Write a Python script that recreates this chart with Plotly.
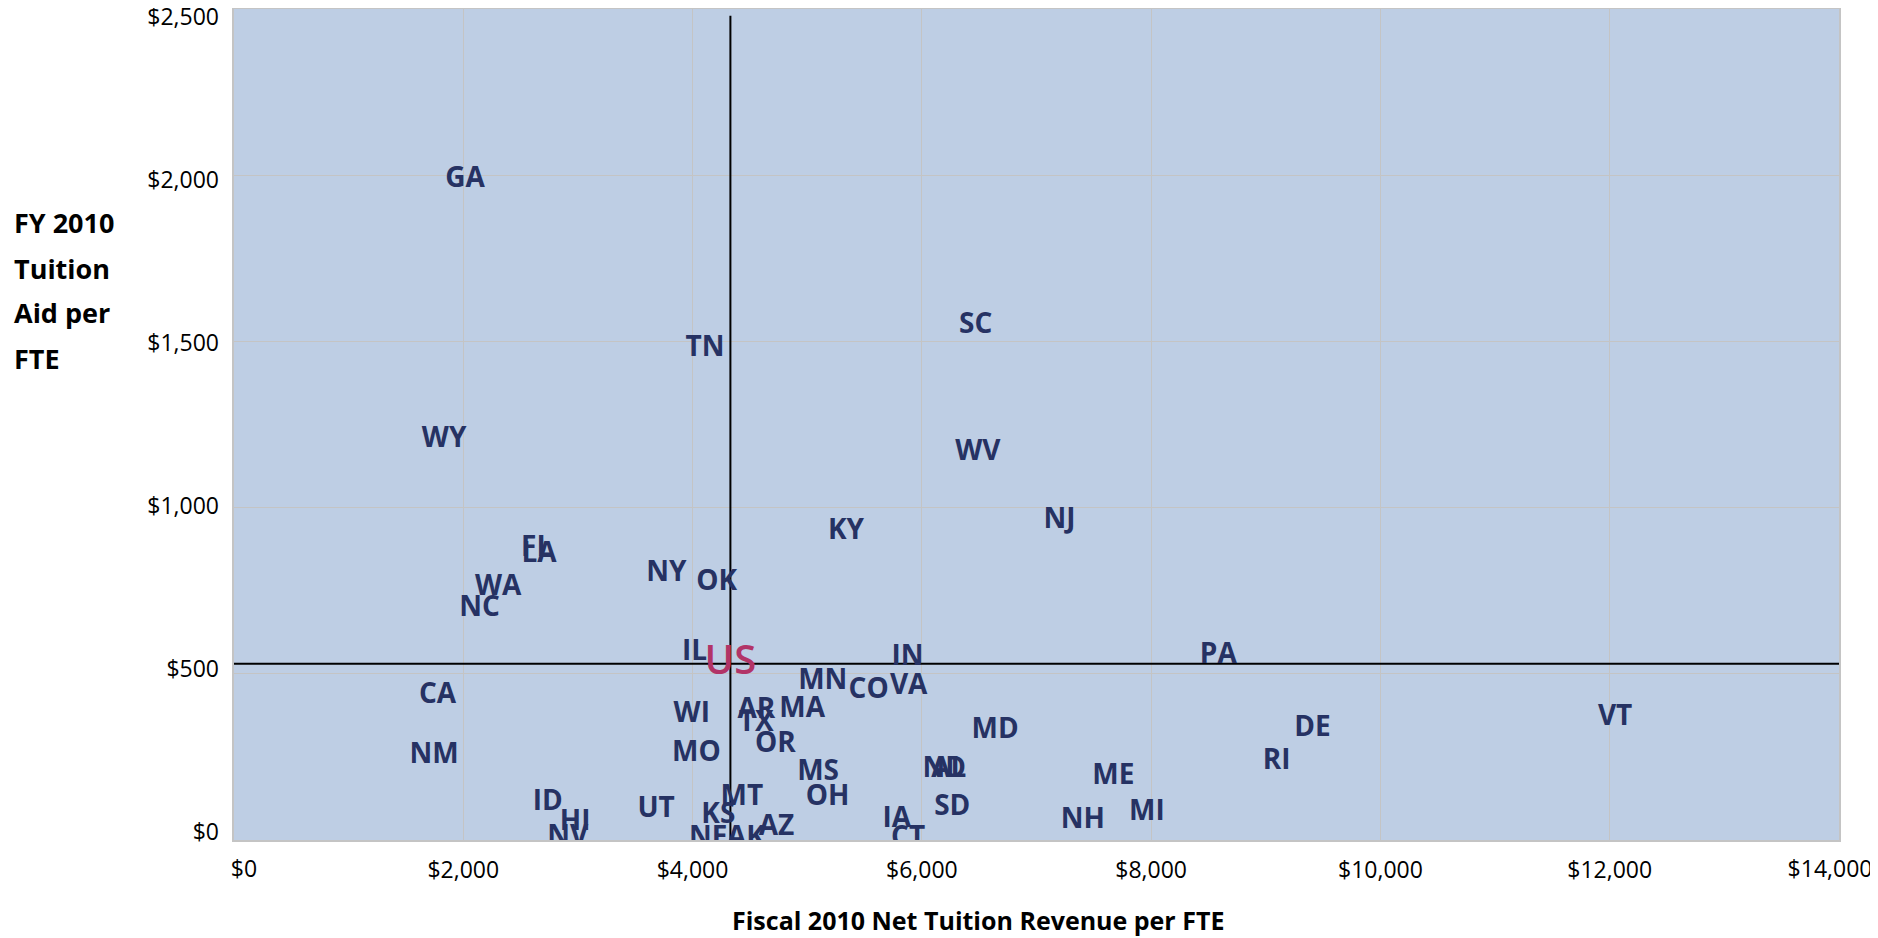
import plotly.graph_objects as go

# ---- data ----
states = ["GA","TN","SC","WY","WV","NJ","KY","FL","LA","NY","OK","WA","NC","IL","IN","PA",
          "MN","CO","VA","CA","WI","AR","TX","MA","VT","DE","MD","OR","NM","MO","RI","ND",
          "AL","MS","ME","MT","OH","ID","UT","SD","KS","HI","IA","AZ","NH","MI","NV","NE",
          "AK","CT"]
net_tuition = [2015, 4108, 6470, 1833, 6488, 7200, 5338, 2640, 2660, 3772, 4210, 2304, 2141, 4017,
               5874, 8586, 5136, 5536, 5885, 1775, 3993, 4556, 4556, 4956, 12047, 9408, 6639, 4722,
               1745, 4033, 9095, 6195, 6235, 5095, 7670, 4430, 5178, 2737, 3682, 6265, 4225, 2975,
               5782, 4732, 7404, 7963, 2910, 4137, 4465, 5880]
tuition_aid = [1987, 1476, 1546, 1204, 1164, 960, 926, 874, 858, 800, 772, 758, 695, 564,
               548, 553, 476, 447, 460, 432, 377, 389, 349, 392, 366, 334, 327, 286,
               254, 259, 234, 212, 212, 201, 189, 127, 127, 110, 90, 97, 73, 50,
               60, 36, 58, 80, 5, 3, 3, 3]

us_label = ["US"]
us_net_tuition = [4330]
us_tuition_aid = [530]
us_vline_top = 2480

x_range = [0, 14000]
y_range = [0, 2500]
x_inner_ticks = [2000, 4000, 6000, 8000, 10000, 12000]
x_edge_ticks = [0, 14000]
y_title_lines = ["FY 2010", "Tuition", "Aid per", "FTE"]
x_title = "Fiscal 2010 Net Tuition Revenue per FTE"

def money(v):
    return f"${v:,}"

# ---- figure geometry (page body has an 8px margin) ----
OFF = 8
W, H = 1878 - OFF, 938 - OFF
ML, MR, MT, MB = 234 - OFF, 39, 9 - OFF, 98
pw = W - ML - MR
ph = H - MT - MB
PL, PR, PT, PB = 234, 1839, 9, 840  # plot area on screen

def px_x(sx):  # screen px -> paper fraction
    return (sx - OFF - ML) / pw

def px_y(sy):
    return 1 - (sy - OFF - MT) / ph

tickfont = dict(family="Open Sans", size=23, color="black")

fig = go.Figure()

# invisible trace carrying the tick-label-only axes (x2, y2)
fig.add_trace(go.Scatter(x=us_net_tuition, y=us_tuition_aid, xaxis="x2", yaxis="y2",
                         mode="markers", marker=dict(opacity=0), hoverinfo="skip",
                         showlegend=False))

# US reference lines (derived from US values)
fig.add_trace(go.Scatter(x=[us_net_tuition[0], us_net_tuition[0]], y=[y_range[0], us_vline_top],
                         mode="lines", line=dict(color="black", width=2), hoverinfo="skip",
                         showlegend=False, cliponaxis=True))
fig.add_trace(go.Scatter(x=x_range, y=[us_tuition_aid[0], us_tuition_aid[0]],
                         mode="lines", line=dict(color="black", width=2), hoverinfo="skip",
                         showlegend=False, cliponaxis=True))

fig.add_trace(go.Scatter(x=net_tuition, y=tuition_aid, text=states, mode="text",
                         textposition="middle center",
                         textfont=dict(family="Open Sans", size=28, color="#263263", weight="bold"),
                         showlegend=False, cliponaxis=True))
fig.add_trace(go.Scatter(x=us_net_tuition, y=us_tuition_aid, text=us_label, mode="text",
                         textposition="middle center",
                         textfont=dict(family="Open Sans", size=40, color="#B23467", weight=600),
                         showlegend=False, cliponaxis=True))

fig.update_layout(
    width=W, height=H,
    margin=dict(l=ML, r=MR, t=MT, b=MB, pad=0, autoexpand=False),
    paper_bgcolor="white",
    plot_bgcolor="rgba(0,0,0,0)",
    showlegend=False,
    font=dict(family="Open Sans", color="black"),
    xaxis=dict(range=x_range, tickmode="array", tickvals=x_inner_ticks,
               ticktext=[money(v) for v in x_inner_ticks],
               showgrid=True, gridcolor="#C4C4C4", gridwidth=1, automargin=False,
               showline=True, linecolor="#C4C4C4", linewidth=2, mirror=True,
               zeroline=False, ticks="", ticklabelstandoff=8, ticklabeloverflow="allow",
               tickfont=tickfont),
    yaxis=dict(range=y_range, dtick=500, tick0=0, showticklabels=False,
               showgrid=True, gridcolor="#C4C4C4", gridwidth=1, automargin=False,
               showline=True, linecolor="#C4C4C4", linewidth=2, mirror=True,
               zeroline=False, ticks=""),
    xaxis2=dict(range=x_range, tickmode="array", tickvals=x_edge_ticks,
                ticktext=[money(v) for v in x_edge_ticks],
                domain=[(244 - PL) / (PR - PL), (1830 - PL) / (PR - PL)],
                anchor="free", position=0,
                showgrid=False, showline=False, zeroline=False, ticks="",
                automargin=False, ticklabelstandoff=13, ticklabeloverflow="allow",
                tickfont=tickfont),
    yaxis2=dict(range=y_range, dtick=500, tick0=0, tickprefix="$", tickformat=",d",
                domain=[(PB - 832) / (PB - PT), (PB - 17) / (PB - PT)],
                anchor="free", position=0,
                showgrid=False, showline=False, zeroline=False, ticks="",
                automargin=False, ticklabelstandoff=15, ticklabeloverflow="allow",
                tickfont=tickfont),
)
fig.add_shape(type="rect", xref="x domain", yref="y domain", x0=0, x1=1, y0=0, y1=1,
              fillcolor="#BECEE4", line=dict(width=0), layer="below")

# axis titles as annotations
line_centers_px = [223, 268, 313, 358]
for txt, cy in zip(y_title_lines, line_centers_px):
    fig.add_annotation(text=txt, xref="paper", yref="paper",
                       x=px_x(12), y=px_y(cy),
                       xanchor="left", yanchor="middle", showarrow=False,
                       font=dict(family="Open Sans", size=27, color="black", weight="bold"))
fig.add_annotation(text=x_title, xref="paper", yref="paper",
                   x=px_x(978), y=px_y(920),
                   xanchor="center", yanchor="middle", showarrow=False,
                   font=dict(family="Open Sans", size=25, color="black", weight="bold"))

fig.write_html("out.html")
